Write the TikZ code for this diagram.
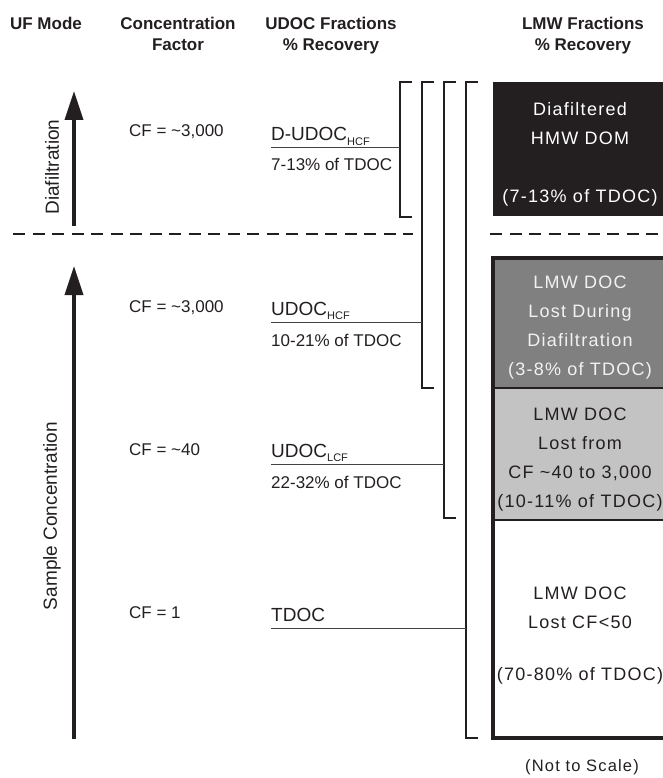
\documentclass[tikz,border=0pt]{standalone}
\usepackage{fontspec}
\setmainfont{Liberation Sans}
\newfontfamily\boxfont[LetterSpace=7]{Liberation Sans}
\usetikzlibrary{arrows.meta}
\definecolor{ink}{HTML}{231F20}
\definecolor{midgray}{HTML}{808080}
\definecolor{ltgray}{HTML}{C3C3C3}
\definecolor{wtext}{HTML}{F2F2F2}
\begin{document}
\begin{tikzpicture}[x=1pt,y=-1pt,
  hdr/.style={font=\fontsize{17}{20}\selectfont\bfseries, text=ink, inner sep=0pt, anchor=base},
  cftxt/.style={font=\fontsize{17}{20}\selectfont, text=ink, inner sep=0pt, anchor=base west},
  udoc/.style={font=\fontsize{19}{22}\selectfont, text=ink, inner sep=0pt, anchor=base west},
  pct/.style={font=\fontsize{17}{20}\selectfont, text=ink, inner sep=0pt, anchor=base west},
  side/.style={font=\fontsize{19}{22}\selectfont, text=ink, inner sep=0pt, rotate=90},
  boxn/.style={inner sep=0pt, minimum width=177pt},
  boxtxt/.style={inner sep=0pt, align=center, font=\boxfont\fontsize{18}{29}\selectfont},
  arr/.style={line width=3.5pt, draw=ink, -{Triangle[length=29pt,width=18pt]}},
  brk/.style={line width=2.5pt, draw=ink, line join=miter},
  conn/.style={line width=1pt, draw=ink!85},
  dashln/.style={line width=2pt, draw=ink, dash pattern=on 12pt off 7.5pt},
  sep/.style={line width=2.5pt, draw=ink},
]
\useasboundingbox (0,0) rectangle (663,778);

% headers
\node[hdr] (h1) at (46,30) {UF Mode};
\node[hdr] (h2a) at (178,30) {Concentration};
\node[hdr] (h2b) at (178,51) {Factor};
\node[hdr] (h3a) at (331,30) {UDOC Fractions};
\node[hdr] (h3b) at (331,51) {\% Recovery};
\node[hdr] (h4a) at (583,30) {LMW Fractions};
\node[hdr] (h4b) at (583,51) {\% Recovery};

% arrows
\coordinate (a1s) at (74,226);
\coordinate (a1e) at (74,91);
\coordinate (a2s) at (74,739);
\coordinate (a2e) at (74,266);
\draw[arr] (a1s) -- (a1e);
\draw[arr] (a2s) -- (a2e);
\node[side] (sd1) at (52,167) {Diafiltration};
\node[side] (sd2) at (52,516) {Sample Concentration};

% dashed separators
\coordinate (dl1) at (13,234);
\coordinate (dl2) at (413,234);
\coordinate (dr1) at (490,234);
\coordinate (dr2) at (670,234);
\draw[dashln] (dl1) -- (dl2);
\draw[dashln] (dr1) -- (dr2);

% CF labels
\node[cftxt] (cf1) at (129,137) {CF = \textasciitilde 3,000};
\node[cftxt] (cf2) at (129,312) {CF = \textasciitilde 3,000};
\node[cftxt] (cf3) at (129,455) {CF = \textasciitilde 40};
\node[cftxt] (cf4) at (129,618) {CF = 1};

% brackets
\coordinate (bt1) at (400,82);  \coordinate (bb1) at (400,217);
\coordinate (bt2) at (422,82);  \coordinate (bb2) at (422,388);
\coordinate (bt3) at (444,82);  \coordinate (bb3) at (444,518);
\coordinate (bt4) at (466,82);  \coordinate (bb4) at (466,738);
\foreach \i in {1,2,3,4}{
  \draw[brk] ([xshift=12pt]bt\i) -- (bt\i) -- (bb\i) -- ([xshift=12pt]bb\i);
}

% UDOC labels
\newcommand{\subx}[1]{\raisebox{-4.5pt}{\fontsize{11}{11}\selectfont #1}}
\node[udoc] (u1) at (271,141) {D-UDOC\subx{HCF}};
\node[pct] (p1) at (271,171) {7-13\% of TDOC};
\node[udoc] (u2) at (271,315) {UDOC\subx{HCF}};
\node[pct] (p2) at (271,346) {10-21\% of TDOC};
\node[udoc] (u3) at (271,457) {UDOC\subx{LCF}};
\node[pct] (p3) at (271,488) {22-32\% of TDOC};
\node[udoc] (u4) at (271,621) {TDOC};

\coordinate (l1) at (271,148);
\coordinate (l2) at (271,322);
\coordinate (l3) at (271,464);
\coordinate (l4) at (271,628);
\draw[conn] (l1) -- (l1 -| bt1);
\draw[conn] (l2) -- (l2 -| bt2);
\draw[conn] (l3) -- (l3 -| bt3);
\draw[conn] (l4) -- (l4 -| bt4);

% fraction boxes
\node[boxn, fill=ink, minimum height=134pt] (bx1) at (581.5,149) {};
\node[boxn, fill=midgray, minimum height=130pt] (bx2) at (581.5,323) {};
\node[boxn, fill=ltgray, minimum height=132pt] (bx3) at (581.5,454) {};
\node[boxn, fill=white, minimum height=218pt] (bx4) at (581.5,629) {};
\draw[sep] (bx2.south west) -- (bx2.south east);
\draw[sep] (bx3.south west) -- (bx3.south east);
\draw[line width=3.5pt, draw=ink] (bx2.north west) rectangle (bx4.south east);

\node[boxtxt, text=white] (t1) at (580,154.5)
  {Diafiltered\\HMW DOM\\[29pt](7-13\% of TDOC)};
\node[boxtxt, text=wtext] (t2) at (580,327.5)
  {LMW DOC\\Lost During\\Diafiltration\\(3-8\% of TDOC)};
\node[boxtxt, text=ink] (t3) at (580,459.5)
  {LMW DOC\\Lost from\\CF \textasciitilde 40 to 3,000\\(10-11\% of TDOC)};
\node[boxtxt, text=ink] (t4) at (580,635.5)
  {LMW DOC\\Lost CF{<}50\\[23pt](70-80\% of TDOC)};

\node[font=\boxfont\fontsize{16.5}{20}\selectfont, text=ink, inner sep=0pt] (nts) at (582,767) {(Not to Scale)};
\end{tikzpicture}
\end{document}
